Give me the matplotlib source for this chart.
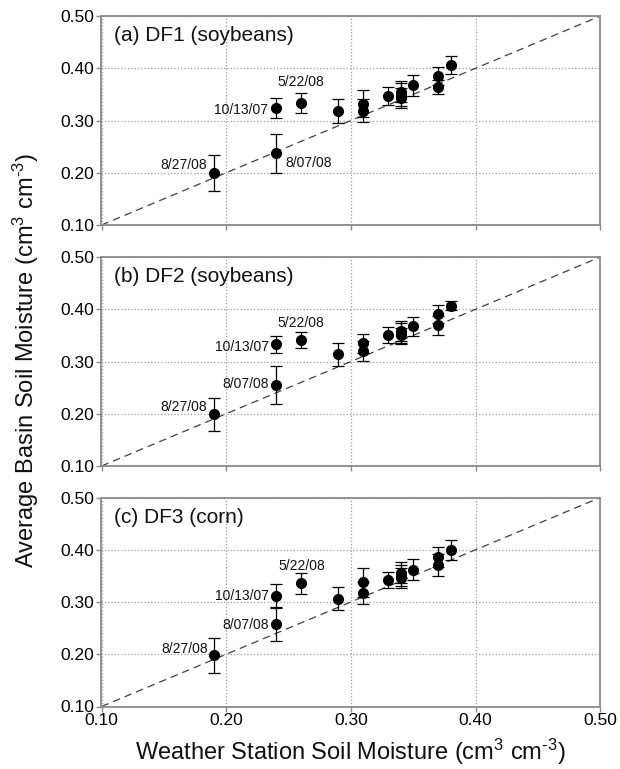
import matplotlib
matplotlib.use("Agg")
import matplotlib.pyplot as plt

plt.rcParams['font.family'] = ['Liberation Sans', 'DejaVu Sans']
plt.rcParams['mathtext.fontset'] = 'custom'
plt.rcParams['mathtext.rm'] = 'Liberation Sans'
plt.rcParams['mathtext.it'] = 'Liberation Sans'
plt.rcParams['mathtext.bf'] = 'Liberation Sans:bold'

# Data: weather station vs basin soil moisture (cm3 cm-3), per drainage field
station = [0.19, 0.24, 0.24, 0.26, 0.29, 0.31, 0.31, 0.33, 0.34, 0.34, 0.34, 0.35, 0.37, 0.37, 0.38]

df1_y = [0.200, 0.237, 0.324, 0.334, 0.318, 0.332, 0.319, 0.347, 0.355, 0.349, 0.343, 0.367, 0.385, 0.364, 0.406]
df1_err = [0.034, 0.037, 0.019, 0.019, 0.023, 0.026, 0.022, 0.017, 0.020, 0.022, 0.019, 0.021, 0.018, 0.014, 0.017]

df2_y = [0.199, 0.255, 0.333, 0.341, 0.314, 0.335, 0.320, 0.351, 0.358, 0.353, 0.350, 0.367, 0.391, 0.369, 0.407]
df2_err = [0.032, 0.036, 0.016, 0.016, 0.022, 0.018, 0.019, 0.015, 0.019, 0.020, 0.015, 0.018, 0.017, 0.018, 0.009]

df3_y = [0.198, 0.257, 0.312, 0.336, 0.306, 0.338, 0.317, 0.342, 0.356, 0.350, 0.346, 0.362, 0.386, 0.370, 0.400]
df3_err = [0.034, 0.031, 0.022, 0.020, 0.022, 0.028, 0.021, 0.016, 0.020, 0.020, 0.020, 0.020, 0.019, 0.021, 0.019]

titles = ["(a) DF1 (soybeans)", "(b) DF2 (soybeans)", "(c) DF3 (corn)"]
dates = ["10/13/07", "5/22/08", "8/07/08", "8/27/08"]

# date label anchor positions (data coords) and alignment per panel
label_pos = [
    [(0.2333, 0.321, 'right'), (0.260, 0.374, 'center'), (0.2477, 0.219, 'left'), (0.1848, 0.215, 'right')],
    [(0.2343, 0.327, 'right'), (0.260, 0.374, 'center'), (0.2346, 0.257, 'right'), (0.1848, 0.2135, 'right')],
    [(0.2346, 0.311, 'right'), (0.2605, 0.368, 'center'), (0.2341, 0.2566, 'right'), (0.1856, 0.210, 'right')],
]

ticks = [0.10, 0.20, 0.30, 0.40, 0.50]
tick_labels = ["0.10", "0.20", "0.30", "0.40", "0.50"]

fig = plt.figure(figsize=(6.2, 7.69), dpi=100)
ax_left = 101.5 / 620
ax_w = (600.3 - 101.5) / 620
ax_h = 209 / 769
bottoms = [544 / 769, 303 / 769, 62.5 / 769]

series = [(df1_y, df1_err), (df2_y, df2_err), (df3_y, df3_err)]
spine_col = '#8a8a8a'

for i, (ys, errs) in enumerate(series):
    ax = fig.add_axes([ax_left, bottoms[i], ax_w, ax_h])
    ax.plot([0.1, 0.5], [0.1, 0.5], linestyle=(0, (6, 4)), color='#404040', lw=0.9, zorder=2)
    ax.errorbar(station, ys, yerr=errs, fmt='o', color='black', ms=7, mec='black',
                elinewidth=0.9, capsize=4, capthick=0.9, zorder=3)
    for txt, (tx, ty, ha) in zip(dates, label_pos[i]):
        ax.text(tx, ty, txt, ha=ha, va='center', fontsize=10, color='#111111')
    ax.text(0.025, 0.905, titles[i], transform=ax.transAxes, ha='left', va='center',
            fontsize=15, color='#111111')

    ax.set_xlim(0.1, 0.5)
    ax.set_ylim(0.1, 0.5)
    ax.set_xticks(ticks)
    ax.set_yticks(ticks)
    ax.set_yticklabels(tick_labels, fontsize=12.5)
    if i == 2:
        ax.set_xticklabels(tick_labels, fontsize=12.5)
    else:
        ax.set_xticklabels([])
    ax.tick_params(direction='out', length=3.5, width=1, color=spine_col, pad=1.5)
    ax.grid(True, linestyle=':', color='#9a9a9a', lw=0.9)
    ax.set_axisbelow(True)
    for sp in ax.spines.values():
        sp.set_color(spine_col)
        sp.set_linewidth(1.3)

unit = "(cm$^{3}$ cm$^{\u2010 3}$)"
fig.text(0.5657, 17 / 769, "Weather Station Soil Moisture " + unit,
         ha='center', va='center', fontsize=17, color='#111111')
fig.text(26 / 620, 1 - 361 / 769, "Average Basin Soil Moisture " + unit,
         ha='center', va='center', rotation=90, fontsize=17, color='#111111')

fig.savefig("out.png", dpi=100)
